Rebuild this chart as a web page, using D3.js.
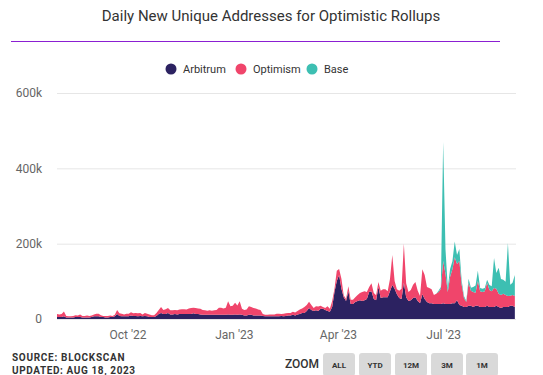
<!DOCTYPE html>
<html>
<head>
<meta charset="utf-8">
<script src="https://cdn.jsdelivr.net/npm/d3@7"></script>
<style>
  body { margin: 0; background: #fff; }
  svg text { font-family: Roboto, "Noto Sans", sans-serif; }
</style>
</head>
<body>
<div id="chart"></div>
<script>
// daily new unique addresses, in thousands, one value every 2 days from Aug 1 2022
var startDate = new Date(2022, 7, 1);
var stepDays = 2;
var arbitrum = [5, 5, 5, 7, 4, 4, 4, 4, 5, 5, 5, 4, 4, 4, 4, 5, 7, 7, 7, 5,
  5, 4, 4, 5, 5, 7, 13, 8, 7, 7, 7, 7, 9, 8, 8, 7, 8, 7, 8, 7,
  5, 5, 5, 8, 13, 16, 13, 13, 16, 12, 12, 13, 12, 13, 13, 13, 13, 13, 13, 15,
  13, 13, 12, 11, 11, 11, 11, 11, 11, 11, 11, 11, 11, 11, 12, 11, 11, 12, 11, 12,
  11, 9, 9, 11, 11, 9, 9, 9, 9, 8, 7, 7, 7, 7, 7, 7, 7, 8, 7, 8,
  9, 9, 11, 9, 12, 13, 16, 16, 21, 29, 24, 21, 23, 21, 27, 27, 24, 21, 19, 32,
  72, 101, 117, 80, 58, 48, 74, 40, 40, 45, 48, 50, 48, 50, 53, 72, 74, 53, 50, 85,
  56, 58, 58, 58, 74, 90, 80, 66, 56, 53, 96, 58, 48, 50, 56, 58, 48, 42, 66, 53,
  45, 42, 42, 40, 40, 40, 40, 42, 40, 40, 40, 42, 42, 50, 37, 35, 32, 32, 35, 35,
  32, 35, 35, 32, 32, 32, 35, 32, 32, 32, 35, 32, 29, 32, 32, 32, 35, 35, 32];
var optimism = [8, 7, 8, 13, 4, 3, 3, 4, 5, 4, 7, 4, 4, 5, 4, 4, 5, 7, 7, 5,
  3, 4, 4, 4, 3, 4, 11, 7, 7, 5, 7, 7, 9, 7, 8, 8, 8, 5, 8, 7,
  7, 5, 5, 8, 11, 16, 11, 13, 13, 11, 11, 11, 11, 12, 13, 13, 12, 15, 16, 15,
  16, 15, 15, 13, 12, 11, 12, 11, 12, 13, 19, 19, 17, 19, 35, 23, 24, 31, 25, 35,
  16, 15, 16, 23, 21, 20, 19, 16, 15, 5, 4, 4, 5, 5, 5, 7, 7, 5, 7, 7,
  7, 7, 8, 8, 9, 12, 12, 16, 16, 17, 13, 8, 11, 12, 8, 5, 5, 13, 8, 16,
  8, 27, 16, 27, 5, 5, 13, 11, 11, 13, 16, 19, 24, 24, 19, 13, 21, 16, 13, 13,
  19, 21, 21, 16, 32, 80, 21, 13, 19, 27, 104, 37, 24, 27, 35, 40, 27, 19, 66, 64,
  40, 40, 37, 24, 27, 32, 40, 112, 80, 32, 72, 90, 122, 96, 117, 56, 24, 13, 61, 40,
  40, 35, 66, 42, 40, 42, 61, 45, 42, 50, 45, 35, 35, 35, 32, 29, 27, 29, 29];
// Base starts later: first value at index baseStart
var baseStart = 165;
var base = [3, 5, 316, 66, 11, 21, 21, 42, 24, 32, 11, 5, 3, 11, 8, 13, 19, 27, 8, 8,
  8, 8, 13, 13, 80, 42, 69, 42, 37, 35, 141, 29, 32, 56];

var seriesKeys = ["arbitrum", "optimism", "base"];
var seriesNames = ["Arbitrum", "Optimism", "Base"];
var seriesColors = ["#2c2261", "#f0456b", "#3dbfb2"];
var yTicks = [0, 200, 400, 600];
var xTicks = [new Date(2022, 9, 1), new Date(2023, 0, 1), new Date(2023, 3, 1), new Date(2023, 6, 1)];
var zoomButtons = ["ALL", "YTD", "12M", "3M", "1M"];

var width = 543, height = 375;
var margin = { top: 93, left: 57 };
var graphWidth = 459, graphHeight = 226;

var table = arbitrum.map(function (v, i) {
  return {
    date: d3.timeDay.offset(startDate, i * stepDays),
    arbitrum: v,
    optimism: optimism[i],
    base: i >= baseStart ? base[i - baseStart] : 0
  };
});

var svg = d3.select("#chart").append("svg").attr("width", width).attr("height", height);

svg.append("text")
  .text("Daily New Unique Addresses for Optimistic Rollups")
  .attr("x", 271)
  .attr("y", 20.5)
  .attr("text-anchor", "middle")
  .style("font-size", "15px")
  .style("fill", "#333");

svg.append("line")
  .attr("x1", 11).attr("x2", 500)
  .attr("y1", 41.5).attr("y2", 41.5)
  .style("stroke", "#8b1fd2")
  .style("stroke-width", 1.2);

// legend
var legendX = [171, 241, 312];
var legend = svg.selectAll(".legend").data(seriesNames).enter().append("g")
  .attr("transform", function (d, i) { return "translate(" + legendX[i] + ",69)"; });
legend.append("circle").attr("r", 5.5).style("fill", function (d, i) { return seriesColors[i]; });
legend.append("text")
  .text(function (d) { return d; })
  .attr("x", 12)
  .attr("y", 4)
  .style("font-size", "11px")
  .style("fill", "#333");

var graph = svg.append("g").attr("transform", "translate(" + margin.left + "," + margin.top + ")");

var x = d3.scaleTime().domain([startDate, new Date(2023, 8, 2)]).range([0, graphWidth]);
var y = d3.scaleLinear().domain([0, 600]).range([graphHeight, 0]);

var gYAxis = graph.append("g");
gYAxis.call(
  d3.axisLeft(y)
    .tickValues(yTicks)
    .tickSize(-graphWidth)
    .tickPadding(15)
    .tickFormat(function (d) { return d === 0 ? "0" : d + "k"; })
);
gYAxis.select(".domain").remove();
gYAxis.selectAll("line").style("stroke", "#e6e6e6");
gYAxis.selectAll("text").style("font-size", "12px").style("fill", "#666");

var stacked = d3.stack().keys(seriesKeys)(table);
var area = d3.area()
  .x(function (d) { return x(d.data.date); })
  .y0(function (d) { return y(d[0]); })
  .y1(function (d) { return y(d[1]); });

graph.selectAll(".series").data(stacked).enter().append("path")
  .attr("d", area)
  .style("fill", function (d, i) { return seriesColors[i]; });

var gXAxis = graph.append("g").attr("transform", "translate(0," + graphHeight + ")");
gXAxis.call(
  d3.axisBottom(x)
    .tickValues(xTicks)
    .tickSize(0)
    .tickPadding(11)
    .tickFormat(d3.timeFormat("%b '%y"))
);
gXAxis.select(".domain").remove();
gXAxis.selectAll("text").style("font-size", "12px").style("fill", "#666");

// footer
svg.append("text").text("SOURCE: BLOCKSCAN")
  .attr("x", 12).attr("y", 361)
  .style("font-size", "10px").style("font-weight", "bold")
  .style("letter-spacing", "0.7px").style("fill", "#333");
svg.append("text").text("UPDATED: AUG 18, 2023")
  .attr("x", 12).attr("y", 373.5)
  .style("font-size", "10px").style("font-weight", "bold")
  .style("letter-spacing", "0.6px").style("fill", "#333");

svg.append("text").text("ZOOM")
  .attr("x", 285).attr("y", 367.5)
  .style("font-size", "12px").style("font-weight", "500")
  .style("fill", "#333");

var buttonX = [323, 359, 395, 431, 466];
var buttons = svg.selectAll(".btn").data(zoomButtons).enter().append("g")
  .attr("transform", function (d, i) { return "translate(" + buttonX[i] + ",353)"; });
buttons.append("rect")
  .attr("width", 32).attr("height", 23).attr("rx", 3)
  .style("fill", "#d9d9d9");
buttons.append("text")
  .text(function (d) { return d; })
  .attr("x", 16).attr("y", 14.5)
  .attr("text-anchor", "middle")
  .style("font-size", "8px").style("font-weight", "bold")
  .style("fill", "#333");
</script>
</body>
</html>
